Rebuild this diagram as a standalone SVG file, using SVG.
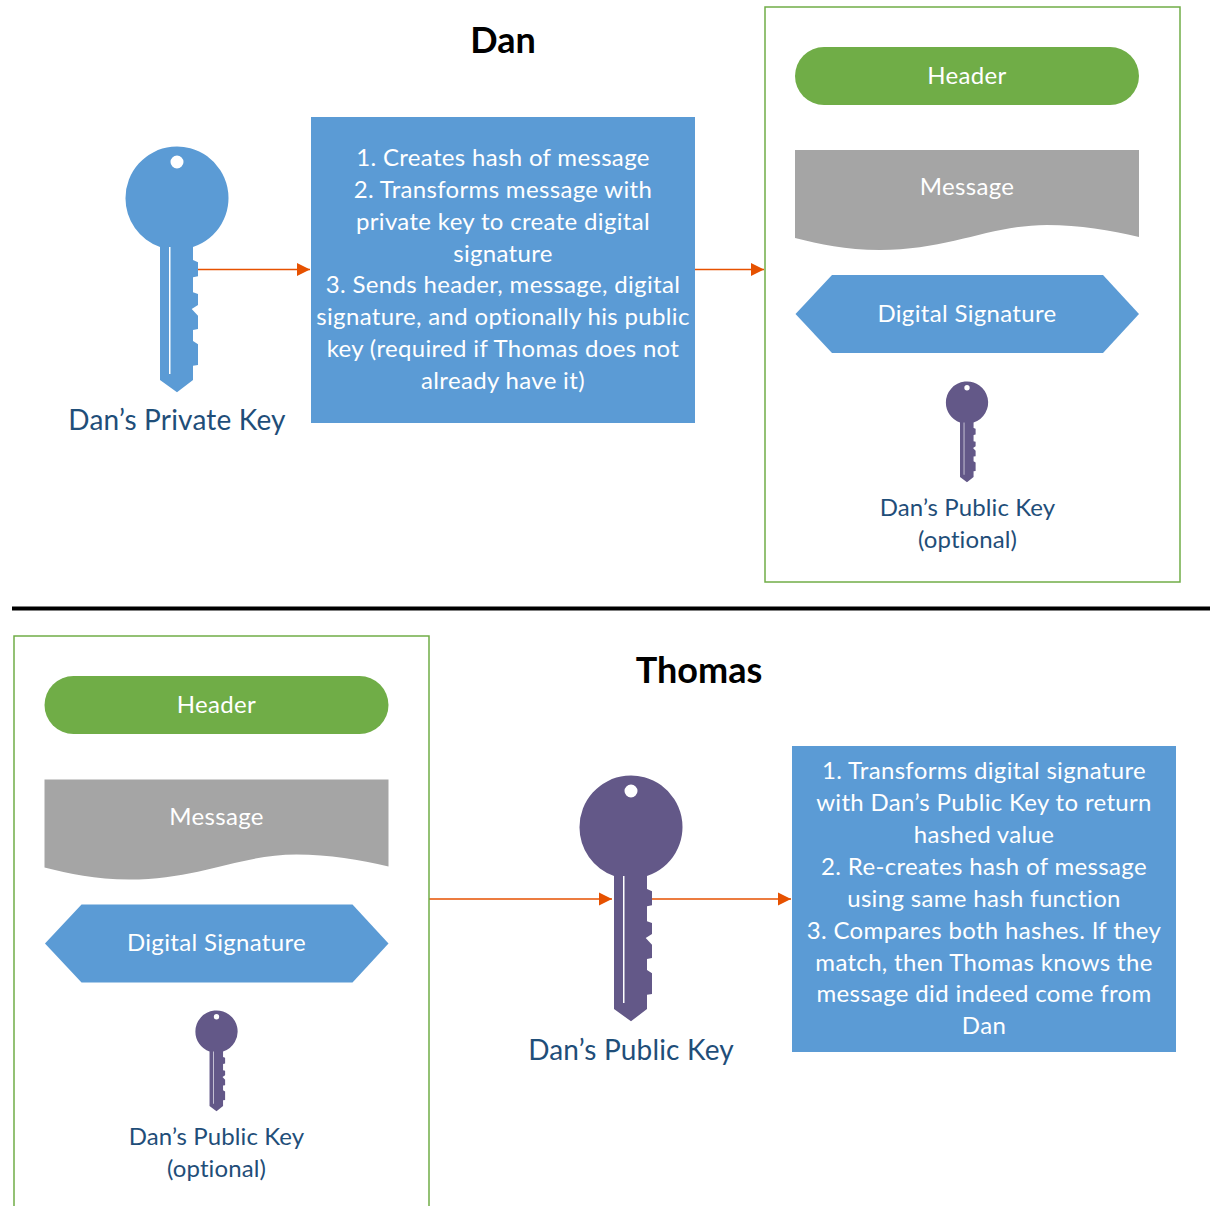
<svg xmlns="http://www.w3.org/2000/svg" width="1210" height="1206" viewBox="0 0 1210 1206">
<style>
text{font-family:"Lato","Liberation Sans",sans-serif;text-anchor:middle}
.w{fill:#fff;font-size:24px;letter-spacing:.33px}
.t{fill:#000;font-size:36px;font-weight:700}
.n{fill:#1F4E79;font-size:24px;letter-spacing:.1px}
.l{fill:#1F4E79;font-size:28px;letter-spacing:.18px}
.blue{fill:#5B9BD5}.green{fill:#70AD47}.grey{fill:#A5A5A5}
.frame{fill:none;stroke:#70AD47;stroke-width:1.5}
.c{stroke:#E65100;stroke-width:1.5;fill:none;marker-end:url(#a)}
</style>
<defs>
<marker id="a" markerUnits="userSpaceOnUse" markerWidth="14" markerHeight="14" refX="13" refY="7" orient="auto"><path d="M0 0.5L13 7L0 13.500Z" fill="#E65100"/></marker>
<g id="key">
<path fill-rule="evenodd" d="M-51.500 0A51.500 51.500 0 1 1 16 49V62L21 64.300V78.300L16 79.300V94.300L21 96V107L14.700 111L21 117.700V131L16 132V143L21 146.300V167L16 167.700V182L0 194.300L-17 182V49A51.500 51.500 0 0 1 -51.500 0ZM-6.500 -36A6.500 6.500 0 1 0 6.500 -36A6.500 6.500 0 1 0 -6.500 -36ZM-8 49V176H-6.500V49Z"/>
</g>
<path id="doc" d="M795 150H1139V237C1110 230 1080 225 1047 225C990 225 950 250 880 250C845 250 820 244 795 238Z"/>
<path id="hex" d="M795.500 314L832 275H1103L1139 314L1103 353H832Z"/>
</defs>

<g id="connectors">
<path class="c" d="M198 269.500H310"/>
<path class="c" d="M695 269.500H764"/>
<path class="c" d="M429 899H612"/>
<path class="c" d="M652 899H791"/>
</g>

<g id="divider"><path d="M12 608.500H1210" stroke="#000" stroke-width="4"/></g>

<g id="title-dan"><text class="t" x="503" y="53">Dan</text></g>
<g id="title-thomas"><text class="t" x="699" y="683">Thomas</text></g>

<g id="dan-private-key">
<use href="#key" x="177" y="198" fill="#5B9BD5"/>
<text class="l" x="177" y="430">Dan’s Private Key</text>
</g>

<g id="dan-steps">
<rect class="blue" x="311" y="117" width="384" height="306"/>
<text class="w" x="503" y="166">1. Creates hash of message</text>
<text class="w" x="503" y="198">2. Transforms message with</text>
<text class="w" x="503" y="230">private key to create digital</text>
<text class="w" x="503" y="262">signature</text>
<text class="w" x="503" y="293">3. Sends header, message, digital</text>
<text class="w" x="503" y="325">signature, and optionally his public</text>
<text class="w" x="503" y="357">key (required if Thomas does not</text>
<text class="w" x="503" y="389">already have it)</text>
</g>

<g id="dan-packet">
<rect class="frame" x="765" y="7" width="415" height="575"/>
</g>
<g id="dan-header">
<rect class="green" x="795" y="47" width="344" height="58" rx="29"/>
<text class="w" x="967" y="84">Header</text>
</g>
<g id="dan-message">
<use href="#doc" class="grey"/>
<text class="w" x="967" y="195">Message</text>
</g>
<g id="dan-signature">
<use href="#hex" class="blue"/>
<text class="w" x="967" y="322">Digital Signature</text>
</g>
<g id="dan-public-key">
<use href="#key" transform="translate(967 402.500) scale(.41)" fill="#635888"/>
<text class="n" x="967.500" y="516">Dan’s Public Key</text>
<text class="n" x="967.500" y="548">(optional)</text>
</g>

<g id="thomas-packet">
<path class="frame" d="M14 1206V636H429V1206"/>
</g>
<g id="thomas-header">
<rect class="green" x="44.500" y="676" width="344" height="58" rx="29"/>
<text class="w" x="216.500" y="713">Header</text>
</g>
<g id="thomas-message">
<use href="#doc" class="grey" transform="translate(-750.500 629.500)"/>
<text class="w" x="216.500" y="825">Message</text>
</g>
<g id="thomas-signature">
<use href="#hex" class="blue" transform="translate(-750.500 629.500)"/>
<text class="w" x="216.500" y="951">Digital Signature</text>
</g>
<g id="thomas-optional-key">
<use href="#key" transform="translate(216.500 1031.500) scale(.41)" fill="#635888"/>
<text class="n" x="216.500" y="1145">Dan’s Public Key</text>
<text class="n" x="216.500" y="1177">(optional)</text>
</g>

<g id="thomas-public-key">
<use href="#key" x="631" y="827" fill="#635888"/>
<text class="l" x="631" y="1060">Dan’s Public Key</text>
</g>

<g id="thomas-steps">
<rect class="blue" x="792" y="746" width="384" height="306"/>
<text class="w" x="984" y="779">1. Transforms digital signature</text>
<text class="w" x="984" y="811">with Dan’s Public Key to return</text>
<text class="w" x="984" y="843">hashed value</text>
<text class="w" x="984" y="875">2. Re-creates hash of message</text>
<text class="w" x="984" y="907">using same hash function</text>
<text class="w" x="984" y="939">3. Compares both hashes. If they</text>
<text class="w" x="984" y="971">match, then Thomas knows the</text>
<text class="w" x="984" y="1002">message did indeed come from</text>
<text class="w" x="984" y="1034">Dan</text>
</g>
</svg>
